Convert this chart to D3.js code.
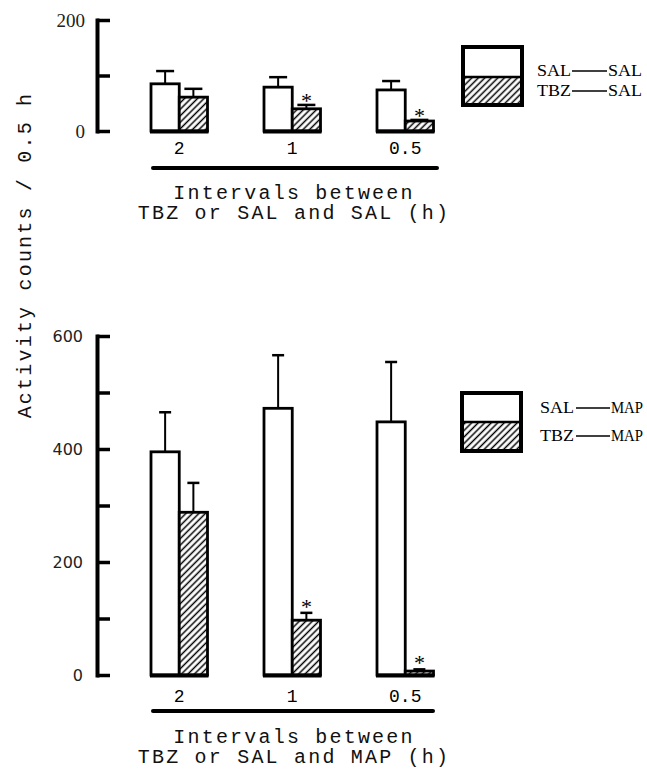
<!DOCTYPE html>
<html>
<head>
<meta charset="utf-8">
<script src="https://cdn.jsdelivr.net/npm/d3@7"></script>
<style>
body{margin:0;background:#fff;}
</style>
</head>
<body>
<div id="divForChart"></div>
<script>
var groups = ["2", "1", "0.5"];
var series = ["SAL", "TBZ"];

// upper panel: SAL or TBZ, then SAL
var salSalMean = [85, 79, 74];
var salSalSem = [23, 18, 16];
var tbzSalMean = [61, 40, 18];
var tbzSalSem = [15, 7, 2];

// lower panel: SAL or TBZ, then MAP
var salMapMean = [395, 472, 448];
var salMapSem = [70, 94, 106];
var tbzMapMean = [288, 97, 7];
var tbzMapSem = [52, 13, 3];

var tbzSignificant = [false, true, true];

var topTicks = [0, 100, 200];
var bottomTicks = [0, 100, 200, 300, 400, 500, 600];

var width = 647;
var height = 769;
var axisX = 97;
var monoFont = "'Liberation Mono', 'DejaVu Sans Mono', monospace";
var serifFont = "'Liberation Serif', 'DejaVu Serif', serif";

var svg = d3.select("#divForChart").append("svg")
	.attr("width", width)
	.attr("height", height)
	.attr("id", "basicSVG");

svg.append("rect")
	.attr("width", width)
	.attr("height", height)
	.attr("fill", "white");

var pat = svg.append("defs").append("pattern")
	.attr("id", "hatch")
	.attr("patternUnits", "userSpaceOnUse")
	.attr("width", 4.6)
	.attr("height", 4.6)
	.attr("patternTransform", "rotate(45)");
pat.append("rect")
	.attr("width", 4.6)
	.attr("height", 4.6)
	.attr("fill", "white");
pat.append("line")
	.attr("x1", 2.3).attr("y1", 0)
	.attr("x2", 2.3).attr("y2", 4.6)
	.attr("stroke", "black")
	.attr("stroke-width", 1.5);

var xGroup = d3.scaleBand()
	.domain(groups)
	.range([151, 433.5])
	.paddingInner(0.5)
	.paddingOuter(0);

var xSeries = d3.scaleBand()
	.domain(series)
	.range([0, xGroup.bandwidth()]);

function drawPanel(p)
{
	var g = svg.append("g").attr("id", p.id);
	var y = d3.scaleLinear().domain([0, p.yMax]).range([p.yBottom, p.yTop]);

	// y axis, ticks pointing inward like a bracket
	var axis = g.append("g")
		.attr("transform", "translate(" + axisX + ",0)")
		.call(d3.axisLeft(y)
			.tickValues(p.ticks)
			.tickSizeInner(-13)
			.tickSizeOuter(0)
			.tickPadding(p.tickPad)
			.tickFormat(function(d){ return d % 200 == 0 ? d : ""; }));
	axis.select(".domain")
		.attr("stroke", "black")
		.attr("stroke-width", 4)
		.attr("stroke-linecap", "square");
	axis.selectAll(".tick line")
		.attr("stroke", "black")
		.attr("stroke-width", 3.5);
	axis.selectAll(".tick text")
		.attr("font-family", p.tickFont)
		.attr("font-size", p.tickSize)
		.attr("fill", "#222");

	for(var i=0;i<groups.length;i++)
	{
		var gx = xGroup(groups[i]);
		var means = [p.salMean[i], p.tbzMean[i]];
		var sems = [p.salSem[i], p.tbzSem[i]];
		for(var j=0;j<series.length;j++)
		{
			var bx = gx + xSeries(series[j]);
			var cx = bx + xSeries.bandwidth()/2;
			var top = y(means[j] + sems[j]);
			g.append("line")
				.attr("x1", cx).attr("x2", cx)
				.attr("y1", y(means[j])).attr("y2", top)
				.attr("stroke", "black")
				.attr("stroke-width", 2);
			g.append("line")
				.attr("x1", cx - p.capWidth/2).attr("x2", cx + p.capWidth/2)
				.attr("y1", top).attr("y2", top)
				.attr("stroke", "black")
				.attr("stroke-width", 2.5);
			g.append("rect")
				.attr("x", bx)
				.attr("y", y(means[j]))
				.attr("width", xSeries.bandwidth())
				.attr("height", y(0) - y(means[j]))
				.attr("fill", j == 0 ? "white" : "url(#hatch)")
				.attr("stroke", "black")
				.attr("stroke-width", 2.8);
			if(j == 1 && tbzSignificant[i])
			{
				g.append("text")
					.text("*")
					.attr("x", cx)
					.attr("y", top + p.starShift)
					.attr("text-anchor", "middle")
					.attr("font-family", serifFont)
					.attr("font-size", 22);
			}
		}
		// heavy floor under each pair
		g.append("line")
			.attr("x1", gx - 1).attr("x2", gx + xGroup.bandwidth() + 1)
			.attr("y1", y(0) + 0.5).attr("y2", y(0) + 0.5)
			.attr("stroke", "black")
			.attr("stroke-width", 4);
		g.append("text")
			.text(groups[i])
			.attr("x", gx + xGroup.bandwidth()/2)
			.attr("y", p.labelY)
			.attr("text-anchor", "middle")
			.attr("font-family", monoFont)
			.attr("font-size", 18);
	}

	g.append("line")
		.attr("x1", 153).attr("x2", p.lineEnd)
		.attr("y1", p.lineY).attr("y2", p.lineY)
		.attr("stroke", "black")
		.attr("stroke-width", 4)
		.attr("stroke-linecap", "round");

	var titles = ["Intervals between", p.title2];
	for(var k=0;k<titles.length;k++)
	{
		g.append("text")
			.text(titles[k])
			.attr("x", 294)
			.attr("y", p.titleY + k*20)
			.attr("text-anchor", "middle")
			.attr("font-family", monoFont)
			.attr("font-size", 20)
			.attr("letter-spacing", 2.2)
			.attr("fill", "#111");
	}

	// legend
	var lg = g.append("g");
	lg.append("rect")
		.attr("x", p.legX).attr("y", p.legY)
		.attr("width", 59).attr("height", p.legSplit - p.legY)
		.attr("fill", "white");
	lg.append("rect")
		.attr("x", p.legX).attr("y", p.legSplit)
		.attr("width", 59).attr("height", p.legY + 58 - p.legSplit)
		.attr("fill", "url(#hatch)");
	lg.append("rect")
		.attr("x", p.legX).attr("y", p.legY)
		.attr("width", 59).attr("height", 58)
		.attr("fill", "none")
		.attr("stroke", "black")
		.attr("stroke-width", 4);
	lg.append("line")
		.attr("x1", p.legX).attr("x2", p.legX + 59)
		.attr("y1", p.legSplit).attr("y2", p.legSplit)
		.attr("stroke", "black")
		.attr("stroke-width", 2.5);
	for(var r=0;r<series.length;r++)
	{
		var ty = p.rowY[r];
		lg.append("text")
			.text(series[r])
			.attr("x", p.textX)
			.attr("y", ty)
			.attr("font-family", serifFont)
			.attr("font-size", 17)
			.attr("textLength", 34)
			.attr("lengthAdjust", "spacingAndGlyphs");
		lg.append("line")
			.attr("x1", p.dashX[0]).attr("x2", p.dashX[1])
			.attr("y1", ty - 5).attr("y2", ty - 5)
			.attr("stroke", "black")
			.attr("stroke-width", 1.6);
		lg.append("text")
			.text(p.second)
			.attr("x", p.dashX[1] + 1)
			.attr("y", ty)
			.attr("font-family", serifFont)
			.attr("font-size", 17)
			.attr("textLength", p.secondLen)
			.attr("lengthAdjust", "spacingAndGlyphs");
	}
}

drawPanel({
	id: "topPanel", yMax: 200, yBottom: 131, yTop: 20, ticks: topTicks,
	tickFont: serifFont, tickSize: 19, tickPad: 12,
	salMean: salSalMean, salSem: salSalSem, tbzMean: tbzSalMean, tbzSem: tbzSalSem,
	capWidth: 18, starShift: 3, labelY: 154, lineY: 168, lineEnd: 437,
	titleY: 199, title2: "TBZ or SAL and SAL (h)",
	legX: 463, legY: 47, legSplit: 77, rowY: [76, 96], textX: 537, dashX: [572, 607], second: "SAL", secondLen: 34
});

drawPanel({
	id: "bottomPanel", yMax: 600, yBottom: 675, yTop: 336, ticks: bottomTicks,
	tickFont: "'DejaVu Sans', sans-serif", tickSize: 16, tickPad: 14,
	salMean: salMapMean, salSem: salMapSem, tbzMean: tbzMapMean, tbzSem: tbzMapSem,
	capWidth: 12, starShift: 1, labelY: 702, lineY: 711, lineEnd: 433,
	titleY: 743, title2: "TBZ or SAL and MAP (h)",
	legX: 462, legY: 393, legSplit: 422, rowY: [413, 441], textX: 540, dashX: [576, 610], second: "MAP", secondLen: 32
});

svg.append("text")
	.text("Activity counts / 0.5 h")
	.attr("transform", "translate(31,255) rotate(-90)")
	.attr("text-anchor", "middle")
	.attr("font-family", monoFont)
	.attr("font-size", 20)
	.attr("letter-spacing", 2.2)
	.attr("fill", "#111");
</script>
</body>
</html>
